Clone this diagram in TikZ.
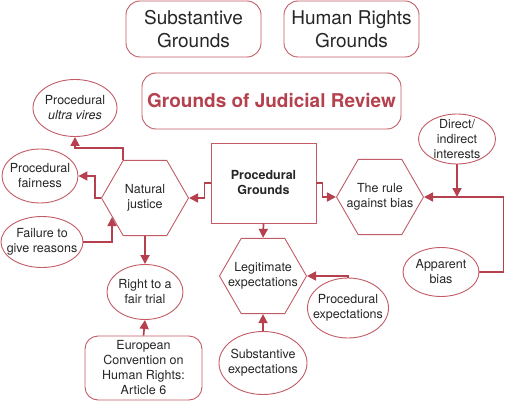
\documentclass[tikz,border=0pt]{standalone}
\usepackage{fontspec}
\setmainfont{TeX Gyre Heros}
\usetikzlibrary{shapes.geometric,arrows.meta,positioning}
\definecolor{jrred}{HTML}{B5404E}
\definecolor{jredge}{HTML}{C25B66}

\begin{document}
\begin{tikzpicture}[x=1pt,y=-1pt,
  every node/.style={align=center,text=black!85},
  txt/.style={font=\fontsize{12.5}{15}\selectfont},
  bigtxt/.style={font=\fontsize{19}{22.5}\selectfont},
  bigbox/.style={bigtxt,draw=jredge,line width=0.9pt,rounded corners=14pt,minimum width=135pt,minimum height=56pt},
  oval/.style={txt,draw=jredge,line width=0.9pt,ellipse,inner xsep=-14pt,inner ysep=-10pt},
  hexa/.style={txt,draw=jredge,line width=0.9pt,regular polygon,regular polygon sides=6,minimum size=87pt,inner sep=-12pt},
  arr/.style={draw=jrred,line width=1.7pt,-{Triangle[length=9pt,width=9pt]}}]
\useasboundingbox (0,0) rectangle (505,401);

% top boxes
\node[bigbox] (sub) at (193.5,29) {Substantive\\Grounds};
\node[bigbox] (hr) at (351.5,29) {Human Rights\\Grounds};
\node[bigbox,minimum width=259pt,text=jrred,font=\fontsize{19}{22.5}\selectfont\bfseries] (gjr) at (271.5,101) {Grounds of Judicial Review};

% middle row
\node[draw=jredge,line width=0.9pt,minimum width=105pt,minimum height=80pt,font=\fontsize{12.5}{15}\selectfont\bfseries] (pg) at (263.5,183) {Procedural\\Grounds};
\node[hexa] (nj) at (145,198) {Natural\\justice};
\node[hexa] (bias) at (380,197) {The rule\\against bias};
\node[hexa] (legit) at (263,276) {Legitimate\\expectations};

% ellipses
\node[oval,minimum width=84pt,minimum height=57pt] (uv) at (75,108) {Procedural\\\textit{ultra vires}};
\node[oval,minimum width=76pt,minimum height=54pt] (fair) at (40,176) {Procedural\\fairness};
\node[oval,minimum width=82pt,minimum height=51pt] (fail) at (42,242) {Failure to\\give reasons};
\node[oval,minimum width=76pt,minimum height=55pt] (trial) at (145,292) {Right to a\\fair trial};
\node[oval,minimum width=77pt,minimum height=50pt] (direct) at (457,139) {Direct/\\indirect\\interests};
\node[oval,minimum width=76pt,minimum height=49pt] (app) at (441,272) {Apparent\\bias};
\node[oval,minimum width=81pt,minimum height=60pt] (pexp) at (348,308) {Procedural\\expectations};
\node[oval,minimum width=88pt,minimum height=63pt] (sexp) at (263,363) {Substantive\\expectations};
\node[txt,draw=jredge,line width=0.9pt,rounded corners=13pt,minimum width=117pt,minimum height=64pt,inner ysep=1pt] (echr) at (143.5,368) {European\\Convention on\\Human Rights:\\Article 6};

% connectors
\draw[arr] (pg.west) -- ++(-6,0) |- (nj.east);
\draw[arr] (pg.east) -- ++(6,0) |- (bias.west);
\draw[arr] (pg.south) -- (legit.north);
\draw[arr] (nj.120) -- ++(0,-12) -| (uv.south);
\draw[arr] (nj.west) -- ++(-6,0) |- (fair.east);
\draw[arr] (fail.east) -| (nj.210);
\draw[arr] (nj.south) -- (trial.north);
\draw[arr] (echr.north) -- (trial.south);
\draw[arr] (direct.south) -- (direct.south |- bias.east);
\draw[arr] (app.east) -- ++(24,0) |- (bias.east);
\draw[arr] (pexp.north) |- (legit.east);
\draw[arr] (sexp.north) -- (legit.south);
\end{tikzpicture}
\end{document}
